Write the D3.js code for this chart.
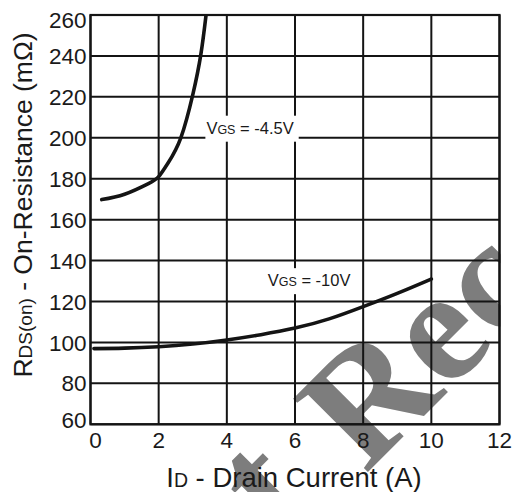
<!DOCTYPE html>
<html><head><meta charset="utf-8">
<script src="https://cdn.jsdelivr.net/npm/d3@7"></script>
<style>
html,body{margin:0;padding:0;background:#fff;}
svg{display:block;}
text{font-family:"Liberation Sans",Arial,sans-serif;fill:#1a1a1a;}
text.wm{font-family:"Liberation Serif","Times New Roman",serif;font-weight:bold;fill:#7d7d7d;}
</style></head>
<body>
<svg id="chart" width="512" height="492"></svg>
<script>
// ---- data ----
const xTicks = [0, 2, 4, 6, 8, 10, 12];
const yTicks = [60, 80, 100, 120, 140, 160, 180, 200, 220, 240, 260];
const vgs45Id = [0.33, 1.0, 1.7, 2.0, 2.28, 2.65, 3.0, 3.24, 3.39, 3.45];
const vgs45R  = [169.8, 172.4, 177.6, 181, 187.8, 200, 221, 241, 260, 268];
const vgs10Id = [0.1, 1, 2, 3, 4, 5, 6, 7, 8, 9, 10];
const vgs10R  = [97, 97.2, 97.9, 99.2, 101.2, 103.8, 107, 111.5, 117.5, 124, 131];
const labels = [
  {main:"V", sub:"GS", rest:" = -4.5V", id:3.4, r:202},
  {main:"V", sub:"GS", rest:" = -10V",  id:5.2, r:127.5}
];
const xTitle = {main:"I", sub:"D", rest:" - Drain Current (A)"};
const yTitle = {main:"R", sub:"DS(on)", rest:" - On-Resistance (mΩ)"};
const watermarkWords = ["Not", " Recommended"];

// ---- layout ----
const svg = d3.select("#chart");
const x = d3.scaleLinear().domain([0, 12]).range([90.5, 499.5]);
const y = d3.scaleLinear().domain([60, 260]).range([424.3, 15]);
const ink = "#141414";

// watermark (beneath everything)
svg.append("clipPath").attr("id","wmclip").append("rect")
  .attr("x",0).attr("y",0).attr("width",500.5).attr("height",492);
const wm = svg.append("g").attr("clip-path","url(#wmclip)")
  .append("text").attr("class","wm")
  .attr("transform","translate(151,689) rotate(-45)")
  .attr("font-size",160);
wm.append("tspan").attr("dy", -14).text(watermarkWords[0]);
wm.append("tspan").attr("dx", 14).attr("dy", 14).text(watermarkWords[1]);

// grid
const grid = svg.append("g").attr("stroke", ink).attr("stroke-width", 2);
grid.selectAll(".gx").data(xTicks).join("line")
  .attr("x1", d => x(d)).attr("x2", d => x(d))
  .attr("y1", y(60)).attr("y2", y(260));
grid.selectAll(".gy").data(yTicks).join("line")
  .attr("y1", d => y(d)).attr("y2", d => y(d))
  .attr("x1", x(0)).attr("x2", x(12));
svg.append("rect").attr("x", x(0)).attr("y", y(260))
  .attr("width", x(12) - x(0)).attr("height", y(60) - y(260))
  .attr("fill","none").attr("stroke", ink).attr("stroke-width", 2.2);

// tick labels
svg.append("g").selectAll("text").data(yTicks).join("text")
  .attr("x", 86.5)
  .attr("y", d => Math.min(Math.max(y(d), 19.5), 420))
  .attr("dy", "0.36em")
  .attr("text-anchor", "end")
  .attr("font-size", 22.5)
  .text(d => d);
svg.append("g").selectAll("text").data(xTicks).join("text")
  .attr("x", d => x(d) + (d === 0 ? 5 : 0))
  .attr("y", 448)
  .attr("text-anchor", "middle")
  .attr("font-size", 22.5)
  .text(d => d);

// curve labels with white backing
labels.forEach(l => {
  const g = svg.append("g");
  const t = g.append("text").attr("x", x(l.id)).attr("y", y(l.r))
    .attr("font-size", 16.5);
  t.append("tspan").text(l.main);
  t.append("tspan").attr("font-size", 12.5).text(l.sub);
  t.append("tspan").text(l.rest);
  const b = t.node().getBBox();
  g.insert("rect", "text").attr("x", b.x - 1).attr("y", b.y - 3)
    .attr("width", b.width + 6).attr("height", b.height + 8).attr("fill", "#fff");
});

// curves
svg.append("clipPath").attr("id","plotclip").append("rect")
  .attr("x", x(0)).attr("y", y(260)).attr("width", x(12) - x(0)).attr("height", y(60) - y(260));
const line = d3.line().x(d => x(d[0])).y(d => y(d[1])).curve(d3.curveNatural);
const curves = svg.append("g").attr("clip-path","url(#plotclip)")
  .attr("fill","none").attr("stroke", ink).attr("stroke-width", 3.6).attr("stroke-linecap","round");
curves.append("path").attr("d", line(d3.zip(vgs45Id, vgs45R)));
curves.append("path").attr("d", line(d3.zip(vgs10Id, vgs10R)));

// axis titles
const xt = svg.append("text").attr("x", 294).attr("y", 487)
  .attr("text-anchor","middle").attr("font-size", 27.5);
xt.append("tspan").text(xTitle.main);
xt.append("tspan").attr("font-size", 19.5).text(xTitle.sub);
xt.append("tspan").text(xTitle.rest);

const yt = svg.append("text").attr("transform","translate(32,205) rotate(-90)")
  .attr("text-anchor","middle").attr("font-size", 26.5);
yt.append("tspan").text(yTitle.main);
yt.append("tspan").attr("font-size", 19).text(yTitle.sub);
yt.append("tspan").text(yTitle.rest);
</script>
</body></html>
